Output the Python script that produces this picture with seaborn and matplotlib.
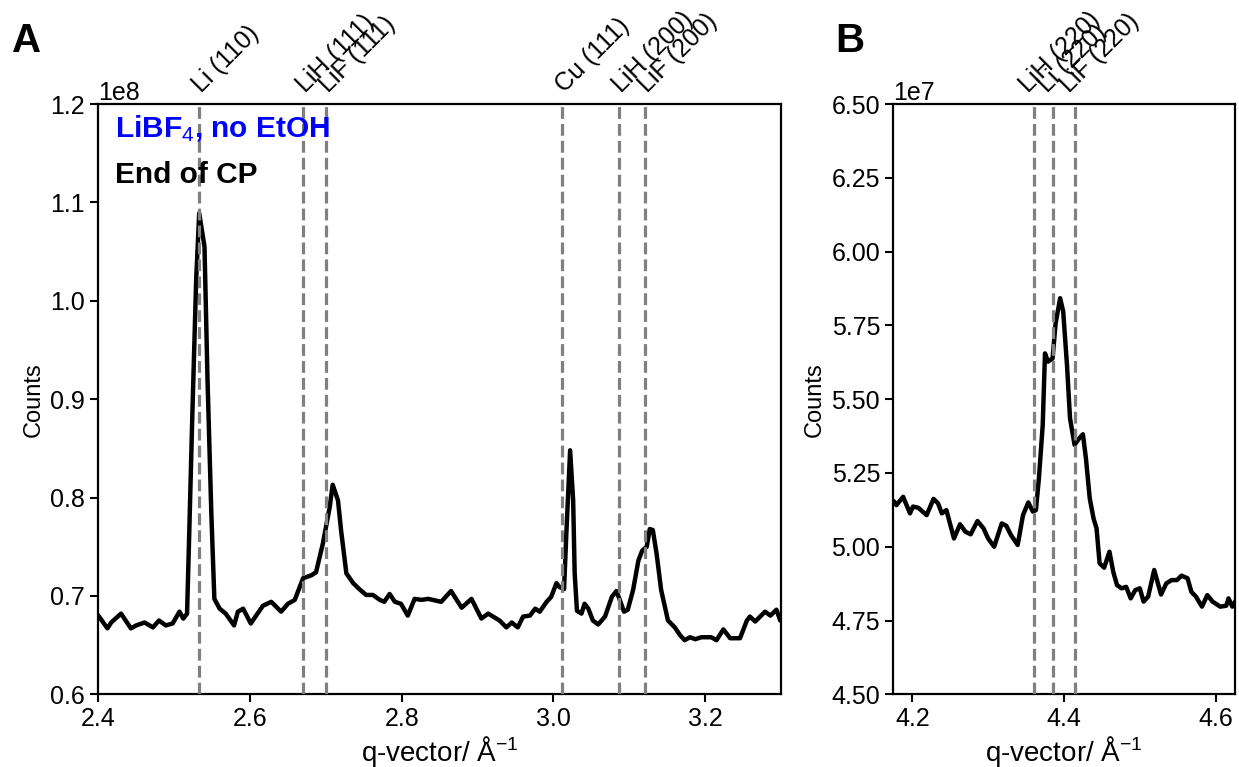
import numpy as np
import pandas as pd
import matplotlib
matplotlib.use("Agg")
import matplotlib.pyplot as plt
import matplotlib.transforms as mtransforms
import seaborn as sns

# ---------------- data ----------------
q_a = [2.398, 2.401, 2.412, 2.417, 2.430, 2.443, 2.450, 2.461, 2.472, 2.480, 2.489, 2.498,
       2.507, 2.512, 2.517, 2.520, 2.524, 2.529, 2.533, 2.540, 2.544, 2.549, 2.553,
       2.560, 2.568, 2.579, 2.584, 2.591, 2.601, 2.617, 2.628, 2.641, 2.650, 2.659,
       2.670, 2.681, 2.687, 2.696, 2.705, 2.709, 2.716, 2.720, 2.727, 2.736, 2.744,
       2.753, 2.762, 2.771, 2.777, 2.784, 2.791, 2.799, 2.808, 2.817, 2.826, 2.835,
       2.852, 2.865, 2.879, 2.892, 2.905, 2.914, 2.929, 2.938, 2.945, 2.953, 2.960,
       2.969, 2.976, 2.982, 2.991, 2.997, 3.004, 3.008, 3.014, 3.017, 3.022, 3.026,
       3.028, 3.031, 3.037, 3.041, 3.046, 3.052, 3.059, 3.068, 3.077, 3.083, 3.087,
       3.093, 3.098, 3.105, 3.112, 3.117, 3.123, 3.127, 3.131, 3.136, 3.142, 3.151,
       3.160, 3.167, 3.173, 3.180, 3.187, 3.195, 3.208, 3.215, 3.224, 3.233, 3.246,
       3.255, 3.259, 3.266, 3.279, 3.286, 3.294, 3.299, 3.303]
counts_a = [0.682, 0.679, 0.667, 0.673, 0.682, 0.667, 0.670, 0.673, 0.668, 0.675, 0.670, 0.672,
            0.684, 0.677, 0.682, 0.767, 0.885, 1.021, 1.089, 1.055, 0.919, 0.784, 0.697,
            0.687, 0.682, 0.670, 0.684, 0.687, 0.672, 0.690, 0.694, 0.684, 0.692, 0.696,
            0.718, 0.721, 0.724, 0.753, 0.790, 0.813, 0.797, 0.767, 0.723, 0.713, 0.707,
            0.701, 0.701, 0.696, 0.694, 0.702, 0.694, 0.692, 0.680, 0.697, 0.696, 0.697,
            0.694, 0.705, 0.688, 0.697, 0.677, 0.682, 0.675, 0.668, 0.673, 0.668, 0.679,
            0.680, 0.687, 0.684, 0.694, 0.699, 0.713, 0.709, 0.707, 0.763, 0.848, 0.797,
            0.723, 0.685, 0.682, 0.692, 0.687, 0.675, 0.671, 0.679, 0.699, 0.705, 0.697,
            0.684, 0.686, 0.706, 0.736, 0.746, 0.750, 0.768, 0.767, 0.743, 0.706, 0.675,
            0.668, 0.660, 0.655, 0.658, 0.656, 0.658, 0.658, 0.655, 0.666, 0.657, 0.657,
            0.675, 0.679, 0.674, 0.684, 0.680, 0.686, 0.675, 0.680]  # x 1e8

q_b = [4.172, 4.176, 4.179, 4.188, 4.197, 4.201, 4.208, 4.219, 4.228, 4.234, 4.239, 4.245,
       4.255, 4.263, 4.270, 4.277, 4.286, 4.294, 4.300, 4.308, 4.318, 4.324, 4.330,
       4.339, 4.346, 4.353, 4.359, 4.363, 4.367, 4.372, 4.375, 4.379, 4.385, 4.389,
       4.395, 4.399, 4.404, 4.408, 4.414, 4.420, 4.425, 4.429, 4.434, 4.439, 4.443,
       4.447, 4.453, 4.460, 4.465, 4.470, 4.476, 4.482, 4.488, 4.494, 4.500, 4.505,
       4.511, 4.519, 4.528, 4.535, 4.542, 4.549, 4.555, 4.563, 4.568, 4.574, 4.582,
       4.589, 4.596, 4.606, 4.614, 4.617, 4.622, 4.627]
counts_b = [5.160, 5.153, 5.141, 5.169, 5.113, 5.136, 5.132, 5.107, 5.162, 5.147, 5.113, 5.124,
            5.028, 5.076, 5.051, 5.042, 5.087, 5.062, 5.028, 5.000, 5.079, 5.071, 5.040,
            5.006, 5.107, 5.150, 5.119, 5.124, 5.232, 5.412, 5.655, 5.627, 5.638, 5.757,
            5.842, 5.797, 5.616, 5.435, 5.345, 5.367, 5.381, 5.299, 5.164, 5.096, 5.062,
            4.944, 4.929, 4.983, 4.915, 4.870, 4.859, 4.864, 4.825, 4.853, 4.859, 4.814,
            4.831, 4.921, 4.838, 4.876, 4.887, 4.887, 4.902, 4.893, 4.847, 4.831, 4.797,
            4.836, 4.814, 4.797, 4.800, 4.825, 4.797, 4.820]  # x 1e7

peaks_a = [2.533, 2.670, 2.700, 3.011, 3.087, 3.121]
labels_a = ["Li (110)", "LiH (111)", "LiF (111)", "Cu (111)", "LiH (200)", "LiF (200)"]
peaks_b = [4.360, 4.385, 4.414]
labels_b = ["LiH (220)", "Li (220)", "LiF (220)"]

sample_label = "LiBF$_4$, no EtOH"
condition_label = "End of CP"

# ---------------- style ----------------
sns.set_theme(style="ticks")
plt.rcParams["font.family"] = ["Liberation Sans", "DejaVu Sans"]
plt.rcParams.update({
    "mathtext.fontset": "custom",
    "mathtext.rm": "Liberation Sans",
    "mathtext.it": "Liberation Sans:italic",
    "mathtext.bf": "Liberation Sans:bold",
    "text.color": "black",
    "axes.labelcolor": "black",
    "axes.linewidth": 1.6,
    "xtick.major.size": 6,
    "ytick.major.size": 6,
    "xtick.major.width": 1.5,
    "ytick.major.width": 1.5,
    "xtick.color": "black",
    "ytick.color": "black",
    "axes.edgecolor": "black",
    "font.size": 18,
    "xtick.labelsize": 18,
    "ytick.labelsize": 18,
    "axes.labelsize": 18,
})

fig = plt.figure(figsize=(12.39, 7.67), dpi=100)
W, H = 1239.0, 767.0
top_px, bot_px = 104.0, 694.3
axA = fig.add_axes([98.3 / W, (H - bot_px) / H, 682.7 / W, (bot_px - top_px) / H])
axB = fig.add_axes([893.3 / W, (H - bot_px) / H, 341.3 / W, (bot_px - top_px) / H])

dfA = pd.DataFrame({"q": q_a, "counts": np.array(counts_a) * 1e8})
dfB = pd.DataFrame({"q": q_b, "counts": np.array(counts_b) * 1e7})

for ax, df, peaks, labels, xlim, ylim, dx_px in [
    (axA, dfA, peaks_a, labels_a, (2.4, 3.3), (0.6e8, 1.2e8), 6),
    (axB, dfB, peaks_b, labels_b, (4.175, 4.625), (4.5e7, 6.5e7), -2),
]:
    sns.lineplot(data=df, x="q", y="counts", ax=ax, color="black", lw=3.2,
                 estimator=None, sort=True, zorder=2)
    for p in peaks:
        ax.axvline(p, color="#808080", ls="--", lw=2.3, zorder=3)
    trans = mtransforms.blended_transform_factory(ax.transData, ax.transAxes)
    trans = trans + mtransforms.ScaledTranslation(dx_px / 100, 0, fig.dpi_scale_trans)
    for p, lab in zip(peaks, labels):
        ax.text(p, 1.012, lab, transform=trans, rotation=45, rotation_mode="anchor",
                ha="left", va="bottom", fontsize=18, color="black")
    ax.set_xlim(*xlim)
    ax.set_ylim(*ylim)
    ax.set_xlabel("q-vector/ Å$^{-1}$", labelpad=2, fontsize=20)
    ax.set_ylabel("Counts", fontsize=17)
    for s in ax.spines.values():
        s.set_visible(True)
        s.set_linewidth(1.6)
        s.set_color("black")
    ax.yaxis.get_offset_text().set_fontsize(18)

axA.set_xticks([2.4, 2.6, 2.8, 3.0, 3.2])
axA.set_yticks(np.arange(0.6, 1.2001, 0.1) * 1e8)
axB.set_xticks([4.2, 4.4, 4.6])
axB.set_yticks(np.arange(4.5, 6.5001, 0.25) * 1e7)

axA.text(0.0245, 0.944, sample_label, transform=axA.transAxes, color="#0000ff",
         fontsize=21.5, fontweight="bold", va="baseline", ha="left")
axA.text(0.0245, 0.866, condition_label, transform=axA.transAxes, color="black",
         fontsize=21.5, fontweight="bold", va="baseline", ha="left")

fig.text(12 / W, 1 - 52 / H, "A", fontsize=29, fontweight="bold", ha="left", va="baseline",
         color="black")
fig.text(835 / W, 1 - 52 / H, "B", fontsize=29, fontweight="bold", ha="left", va="baseline",
         color="black")

fig.savefig("out.png", dpi=100)
